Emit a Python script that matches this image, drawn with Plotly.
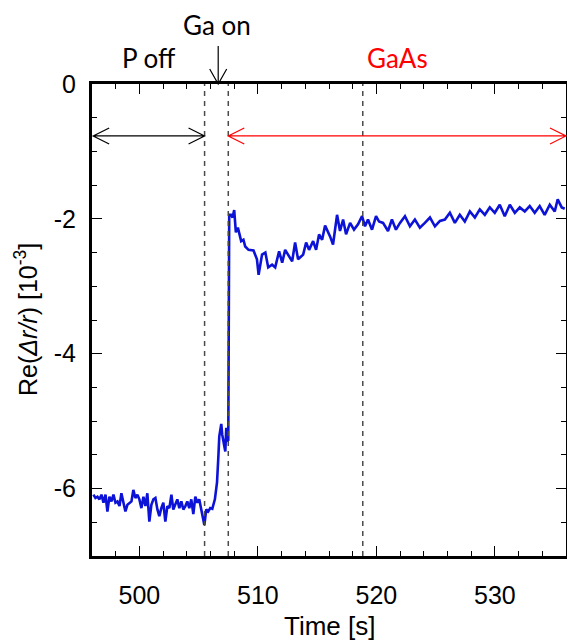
import plotly.graph_objects as go

# ---- data ----
time_s = [
    496.12, 496.29, 496.46, 496.63, 496.80, 496.97, 497.14, 497.30, 497.47, 497.64,
    497.81, 497.98, 498.15, 498.32, 498.48, 498.65, 498.82, 498.99, 499.16, 499.33,
    499.49, 499.66, 499.83, 500.00, 500.17, 500.34, 500.51, 500.67, 500.84, 501.01,
    501.18, 501.35, 501.52, 501.68, 501.85, 502.02, 502.19, 502.36, 502.53, 502.70,
    502.86, 503.03, 503.20, 503.37, 503.54, 503.71, 503.88, 504.04, 504.21, 504.38,
    504.55, 504.72, 504.89, 505.05, 505.22, 505.39, 505.48, 505.64, 505.81, 505.98,
    506.15, 506.37, 506.55, 506.66, 506.74, 506.91, 506.99, 507.25, 507.33, 507.41,
    507.50, 507.58, 507.73, 507.86, 508.00, 508.14, 508.31, 508.59, 508.78, 508.93,
    509.21, 509.63, 509.92, 510.06, 510.35, 510.63, 510.87, 511.20, 511.46, 511.79,
    512.05, 512.30, 512.55, 512.89, 513.14, 513.39, 513.82, 514.07, 514.32, 514.66,
    514.91, 515.16, 515.42, 515.67, 516.09, 516.34, 516.68, 516.93, 517.19, 517.44,
    517.78, 518.11, 518.45, 518.79, 519.04, 519.29, 519.63, 519.97, 520.22, 520.56,
    520.98, 521.31, 521.65, 521.99, 522.41, 522.83, 523.25, 523.67, 524.09, 524.52,
    524.94, 525.36, 525.78, 526.20, 526.62, 527.04, 527.46, 527.89, 528.31, 528.73,
    529.15, 529.57, 529.99, 530.41, 530.83, 531.26, 531.68, 532.10, 532.52, 532.94,
    533.36, 533.78, 534.20, 534.63, 535.05, 535.30, 535.64, 535.89,
]
re_dr_r = [
    -6.09, -6.14, -6.12, -6.16, -6.09, -6.21, -6.09, -6.34, -6.12, -6.19,
    -6.09, -6.21, -6.19, -6.26, -6.07, -6.21, -6.34, -6.24, -6.21, -6.19,
    -6.02, -6.14, -6.09, -6.16, -6.29, -6.12, -6.26, -6.07, -6.49, -6.24,
    -6.16, -6.14, -6.31, -6.41, -6.29, -6.21, -6.49, -6.26, -6.29, -6.09,
    -6.31, -6.24, -6.16, -6.29, -6.19, -6.31, -6.26, -6.19, -6.29, -6.16,
    -6.38, -6.12, -6.21, -6.16, -6.31, -6.41, -6.54, -6.31, -6.34, -6.29,
    -6.30, -6.16, -5.91, -5.54, -5.23, -5.04, -5.20, -5.45, -5.10, -5.30,
    -5.28, -1.94, -1.94, -1.98, -1.87, -2.20, -2.13, -2.33, -2.31, -2.41,
    -2.46, -2.47, -2.60, -2.83, -2.53, -2.50, -2.72, -2.68, -2.72, -2.48,
    -2.65, -2.46, -2.53, -2.63, -2.35, -2.60, -2.53, -2.35, -2.46, -2.33,
    -2.46, -2.23, -2.31, -2.10, -2.26, -2.38, -1.94, -2.18, -2.01, -2.23,
    -2.06, -2.16, -2.08, -1.96, -2.11, -2.01, -2.16, -1.96, -2.04, -2.06,
    -2.18, -2.01, -2.16, -2.06, -1.96, -2.11, -2.01, -2.13, -2.06, -1.98,
    -2.11, -2.03, -2.01, -1.91, -2.06, -1.94, -2.04, -1.89, -1.98, -1.86,
    -1.94, -1.83, -1.91, -1.79, -1.96, -1.79, -1.91, -1.83, -1.89, -1.81,
    -1.91, -1.81, -1.94, -1.79, -1.89, -1.71, -1.83, -1.85,
]

x_range = [496, 536]
y_range = [-7, 0]
y_tickvals = [0, -2, -4, -6]
y_ticktext = ["0", "-2", "-4", "-6"]
x_tickvals = [500, 510, 520, 530]

marker_times = [505.5, 507.5, 518.85]   # dashed guide lines
p_off_span = [496.1, 505.5]
gaas_span = [507.5, 536.0]
ga_on_time = 506.65
arrow_level = -0.77

# ---- geometry ----
W, H = 567, 641
ml, mr, mt, mb = 92, 1, 84, 85
pw, ph = W - ml - mr, H - mt - mb


def xp(t):
    return (t - x_range[0]) / (x_range[1] - x_range[0])


def yp(v):
    return (v - y_range[0]) / (y_range[1] - y_range[0])


def px_x(p):  # pixels -> paper (x)
    return p / pw


def px_y(p):
    return p / ph


def hbar_arrow(t0, t1, level, color):
    # horizontal double-headed arrow with open V heads
    y = yp(level)
    a, b = xp(t0), xp(t1)
    hl, hw = px_x(16), px_y(8)
    path = (f"M{a},{y} L{b},{y} "
            f"M{a + hl},{y + hw} L{a},{y} L{a + hl},{y - hw} "
            f"M{b - hl},{y + hw} L{b},{y} L{b - hl},{y - hw}")
    return dict(type="path", path=path, xref="paper", yref="paper",
                line=dict(color=color, width=1.2))


fig = go.Figure()

fig.add_trace(go.Scatter(x=time_s, y=re_dr_r, mode="lines",
                         line=dict(color="#0c12d6", width=2.6),
                         hoverinfo="skip"))

shapes = []
for t in marker_times:
    shapes.append(dict(type="line", xref="x", yref="paper", x0=t, x1=t, y0=0, y1=1,
                       line=dict(color="#4a4a4a", width=1.5, dash="5px,5px")))
shapes.append(hbar_arrow(p_off_span[0], p_off_span[1], arrow_level, "black"))
shapes.append(hbar_arrow(gaas_span[0], gaas_span[1], arrow_level, "red"))

# "Ga on" arrow above the frame
gx = xp(ga_on_time)
gtop = 1 + px_y(38)
hl, hw = px_y(15), px_x(8.5)
shapes.append(dict(type="path", xref="paper", yref="paper",
                   path=(f"M{gx},{gtop} L{gx},1 "
                         f"M{gx - hw},{1 + hl} L{gx},1 L{gx + hw},{1 + hl}"),
                   line=dict(color="black", width=1.2)))

label_font = "Lato, Open Sans, sans-serif"
axis_font = "Liberation Sans, Arial"


def label(text, x, y, color="black", size=26, family=label_font, **kw):
    return dict(text=text, x=x, y=y, xref="paper", yref="paper", showarrow=False,
                xanchor="center", yanchor="middle",
                font=dict(family=family, size=size, color=color), **kw)


annotations = [
    label("Ga on", px_x(217 - ml), 1 + px_y(mt - 25)),
    label("P off", px_x(149 - ml), 1 + px_y(mt - 58)),
    label("GaAs", px_x(397 - ml), 1 + px_y(mt - 58), color="red"),
    label("Time [s]", 0.5, -px_y(626 - (H - mb)), family=axis_font),
    label("Re(<i>Δr/r</i>) [10<sup>-3</sup>]", -px_x(ml - 26), 0.5, size=25,
          family=axis_font, textangle=-90),
]

axis_common = dict(showline=True, linewidth=3, linecolor="black", mirror="allticks",
                   ticks="inside", ticklen=10, tickwidth=1.2, tickcolor="black",
                   showgrid=False, zeroline=False, automargin=False,
                   tickfont=dict(family=axis_font, size=25, color="black"))

fig.update_layout(
    width=W, height=H,
    margin=dict(l=ml, r=mr, t=mt, b=mb),
    paper_bgcolor="white", plot_bgcolor="white",
    showlegend=False,
    shapes=shapes,
    annotations=annotations,
    xaxis=dict(range=x_range, tickvals=x_tickvals, ticklabelstandoff=15,
               minor=dict(dtick=2, ticklen=5, ticks="inside", tickcolor="black", tickwidth=1),
               **axis_common),
    yaxis=dict(range=y_range, tickvals=y_tickvals, ticktext=y_ticktext, ticklabelstandoff=8,
               minor=dict(dtick=0.5, ticklen=5, ticks="inside", tickcolor="black", tickwidth=1),
               **axis_common),
)

fig.write_html("out.html", config={"displayModeBar": False},
               post_script="document.body.style.margin='0';document.body.style.overflow='hidden';")
